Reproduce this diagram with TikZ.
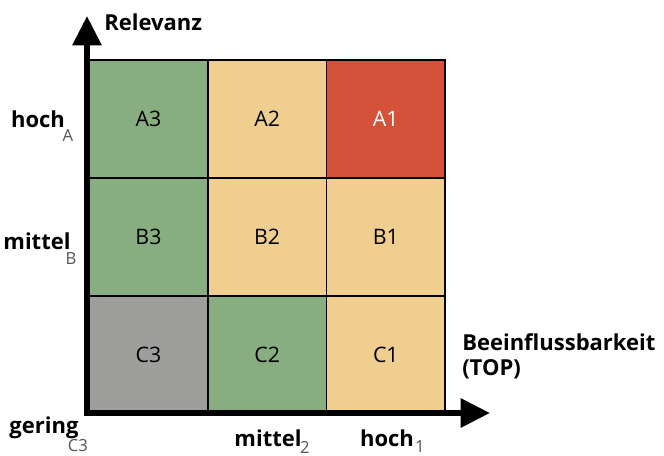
\documentclass[tikz,border=0pt]{standalone}
\usepackage{fontspec}
\setmainfont{Open Sans}
\usetikzlibrary{arrows.meta, positioning}
\definecolor{cGreen}{HTML}{87AD80}
\definecolor{cSand}{HTML}{F0CE8F}
\definecolor{cRed}{HTML}{D4523A}
\definecolor{cGrey}{HTML}{9E9E9C}
\definecolor{cSub}{HTML}{555555}

\begin{document}
\begin{tikzpicture}[x=0.75pt, y=-0.75pt, node distance=0pt,
    cell/.style={draw, line width=1.2pt, minimum width=89pt, minimum height=88.5pt, inner sep=0pt, outer sep=0pt, font=\fontsize{16}{18}\selectfont},
    axis/.style={line width=4.6pt, -{Triangle[length=22pt, width=21pt]}},
    lbl/.style={font=\fontsize{16.5}{19}\selectfont\bfseries, inner sep=0pt},
    sublbl/.style={font=\fontsize{12.5}{14}\selectfont, text=cSub, inner sep=0pt}]
      \useasboundingbox (0,0) rectangle (664,456);
      % matrix
      \node[cell, fill=cGreen] (A3) at (148.5,119) {A3};
      \node[cell, fill=cSand, right=of A3] (A2) {A2};
      \node[cell, fill=cRed, text=white, right=of A2] (A1) {A1};
      \node[cell, fill=cGreen, below=of A3] (B3) {B3};
      \node[cell, fill=cSand, right=of B3] (B2) {B2};
      \node[cell, fill=cSand, right=of B2] (B1) {B1};
      \node[cell, fill=cGrey, below=of B3] (C3) {C3};
      \node[cell, fill=cGreen, right=of C3] (C2) {C2};
      \node[cell, fill=cSand, right=of C2] (C1) {C1};
      % axes
      \coordinate (origin) at (84,413);
      \coordinate (ytip) at (87,16);
      \coordinate (xtip) at (490,413);
      \draw[axis] (origin -| ytip) -- (ytip);
      \draw[axis] (origin) -- (xtip);
      % axis titles
      \node[lbl, anchor=west] (relevanz) at (104,22) {Relevanz};
      \node[lbl, anchor=west, align=left] (top) at (462,356) {Beeinflussbarkeit\\(TOP)};
      % scale labels
      \node[lbl] (hochA) at (38,119) {hoch};
      \node[sublbl] (subA) at (68,136) {A};
      \node[lbl] (mittelB) at (37,241) {mittel};
      \node[sublbl] (subB) at (71,259) {B};
      \node[lbl] (gering) at (44,428) {gering};
      \node[sublbl] (subC) at (78,446) {C3};
      \node[lbl] (mittel2) at (268,438) {mittel};
      \node[sublbl] (sub2) at (305,447) {2};
      \node[lbl] (hoch1) at (387,438) {hoch};
      \node[sublbl] (sub1) at (420,447) {1};
    \end{tikzpicture}
\end{document}
